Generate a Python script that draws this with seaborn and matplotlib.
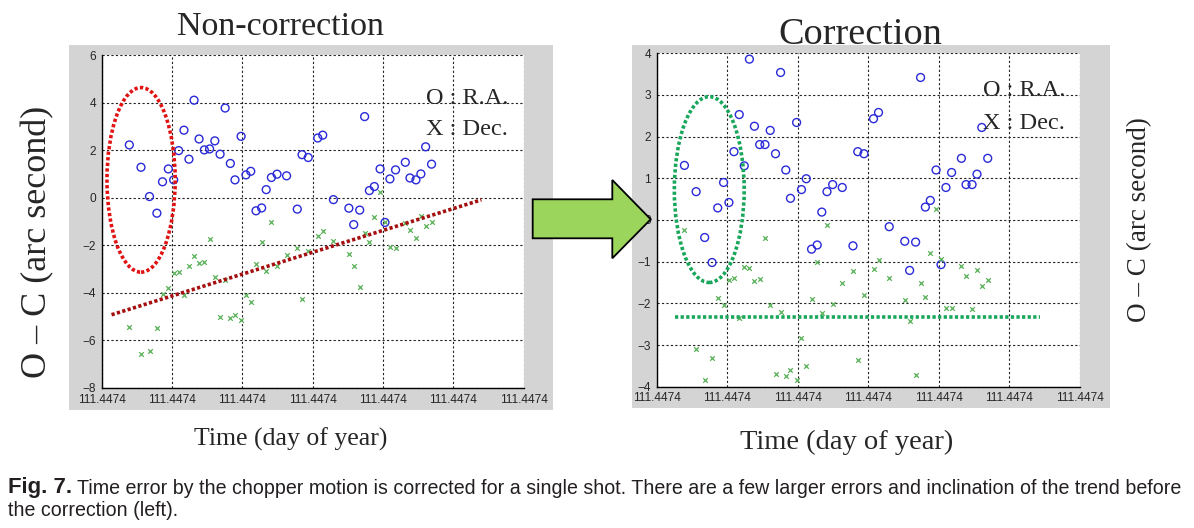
import matplotlib
matplotlib.use('Agg')
import matplotlib.pyplot as plt
from matplotlib.patches import Ellipse, Polygon, Rectangle
import seaborn as sns

# shot times in grid steps (every tick reads 111.4474)
czas = [0.393, 0.559, 0.680, 0.785, 0.865, 0.948, 1.024, 1.095, 1.170, 1.241,
        1.314, 1.385, 1.460, 1.535, 1.609, 1.684, 1.756, 1.830, 1.896, 1.983,
        2.052, 2.120, 2.195, 2.275, 2.340, 2.414, 2.494, 2.630, 2.782, 2.850,
        2.938, 3.073, 3.144, 3.296, 3.516, 3.585, 3.670, 3.740, 3.808, 3.878,
        3.960, 4.030, 4.100, 4.180, 4.319, 4.385, 4.470, 4.540, 4.608, 4.692]

# O - C before correction
ra_przed = [2.22, 1.28, 0.05, -0.65, 0.67, 1.21, 0.75, 1.98, 2.84, 1.62,
            4.10, 2.47, 2.01, 2.05, 2.39, 1.83, 3.77, 1.44, 0.75, 2.58,
            0.96, 1.11, -0.55, -0.43, 0.34, 0.85, 0.99, 0.92, -0.48, 1.81,
            1.69, 2.51, 2.63, -0.08, -0.44, -1.13, -0.52, 3.41, 0.30, 0.47,
            1.21, -1.04, 0.79, 1.17, 1.49, 0.83, 0.75, 1.00, 2.14, 1.41]
dec_przed = [-5.44, -6.56, -6.46, -5.48, -4.04, -3.80, -3.17, -3.13, -4.09, -2.86,
             -2.46, -2.76, -2.72, -1.74, -3.35, -5.02, -3.46, -5.06, -4.91, -5.13,
             -4.11, -4.37, -2.78, -1.87, -3.09, -1.01, -2.89, -2.41, -2.12, -4.25,
             -2.25, -1.62, -1.38, -1.84, -2.36, -2.86, -3.74, -1.49, -1.87, -0.80,
             0.25, -1.00, -2.09, -2.10, -1.07, -1.35, -1.70, -0.75, -1.17, -1.01]

# O - C after correction
ra_po = [1.31, 0.68, -0.42, -1.02, 0.29, 0.90, 0.42, 1.64, 2.53, 1.30,
         3.86, 2.25, 1.81, 1.81, 2.15, 1.59, 3.54, 1.20, 0.52, 2.34,
         0.73, 0.99, -0.70, -0.60, 0.19, 0.68, 0.85, 0.78, -0.62, 1.64,
         1.59, 2.43, 2.58, -0.16, -0.51, -1.21, -0.53, 3.42, 0.31, 0.47,
         1.20, -1.07, 0.78, 1.14, 1.48, 0.85, 0.85, 1.10, 2.22, 1.48]
dec_po = [-0.25, -3.10, -3.85, -3.30, -1.86, -2.05, -1.44, -1.40, -2.34, -1.12,
          -1.16, -1.46, -1.42, -0.42, -2.05, -3.70, -2.20, -3.75, -3.59, -3.85,
          -2.82, -3.50, -1.89, -1.00, -2.22, -0.13, -2.02, -1.51, -1.22, -3.36,
          -1.80, -1.18, -0.95, -1.38, -1.91, -2.42, -3.73, -1.51, -1.84, -0.78,
          0.26, -0.94, -2.11, -2.11, -1.10, -1.35, -2.14, -1.21, -1.58, -1.44]

# trend lines
trend_x = [0.14, 5.40]
trend_y = [-4.92, -0.09]
poziom_x = [0.26, 5.43]
poziom_y = [-2.32, -2.32]

x_ticks = [0, 1, 2, 3, 4, 5, 6]
x_tick_labels = ['111.4474'] * 7
y_ticks_przed = [-8, -6, -4, -2, 0, 2, 4, 6]
y_ticks_po = [-4, -3, -2, -1, 0, 1, 2, 3, 4]

W, H = 1194, 528
sns.set_style('white')
plt.rcParams['font.family'] = ['Liberation Sans', 'DejaVu Sans']
serif = ['Liberation Serif', 'DejaVu Serif']
narrow = ['Liberation Sans Narrow', 'Liberation Sans', 'DejaVu Sans']

fig = plt.figure(figsize=(W / 100, H / 100), dpi=100)
fig.patch.set_facecolor('white')


def px(x, y):
    return x / W, 1 - y / H


def panel(box, y_ticks, ra, dec):
    x0, y0, x1, y1 = box
    ax = fig.add_axes([x0 / W, 1 - y1 / H, (x1 - x0) / W, (y1 - y0) / H])
    ax.set_facecolor('white')
    sns.scatterplot(x=czas, y=ra, ax=ax, marker='o', s=32, facecolor='none',
                    edgecolor='#2a2ad8', linewidth=1.0, zorder=3)
    sns.scatterplot(x=czas, y=dec, ax=ax, marker='x', s=11, color='#58b058',
                    linewidth=0.9, zorder=3)
    ax.set_xlim(0, 6)
    ax.set_ylim(y_ticks[0], y_ticks[-1])
    ax.set_xticks(x_ticks)
    ax.set_xticklabels(x_tick_labels)
    ax.set_yticks(y_ticks)
    ax.tick_params(direction='in', length=4, width=0.8, labelsize=8.6,
                   labelcolor='#262626', pad=4)
    ax.grid(True, color='#222222', linestyle=(0, (2.0, 2.0)), linewidth=0.8)
    for s in ['top', 'right']:
        ax.spines[s].set_visible(False)
    for s in ['left', 'bottom']:
        ax.spines[s].set_color('black')
        ax.spines[s].set_linewidth(1.0)
    return ax


# grey figure backgrounds behind the two plots
fig.add_artist(Rectangle(px(69, 410), 484 / W, 365 / H, transform=fig.transFigure,
                         facecolor='#d4d4d4', edgecolor='none', zorder=-1))
fig.add_artist(Rectangle(px(632, 408), 478 / W, 363 / H, transform=fig.transFigure,
                         facecolor='#d4d4d4', edgecolor='none', zorder=-1))

ax1 = panel((101.7, 55, 523.5, 388), y_ticks_przed, ra_przed, dec_przed)
ax2 = panel((656.7, 53.3, 1080, 386.7), y_ticks_po, ra_po, dec_po)

kropki = (0, (0.9, 0.65))
ax1.plot(trend_x, trend_y, color='#a50f0f', linewidth=2.6, linestyle=kropki,
         dash_capstyle='butt', zorder=4)
ax1.add_patch(Ellipse((0.56, 0.75), 0.97, 7.76, fill=False, edgecolor='#e01212',
                      linewidth=2.6, linestyle=kropki, zorder=4))
ax2.plot(poziom_x, poziom_y, color='#17a65a', linewidth=2.6, linestyle=kropki,
         dash_capstyle='butt', zorder=4)
ax2.add_patch(Ellipse((0.745, 0.73), 0.99, 4.46, fill=False, edgecolor='#17a65a',
                      linewidth=2.6, linestyle=kropki, zorder=4))

for ax in (ax1, ax2):
    ax.text(0.77, 0.87 if ax is ax1 else 0.887, 'O : R.A.', transform=ax.transAxes,
            family=serif, fontsize=17.5, va='center', ha='left')
    ax.text(0.77, 0.775 if ax is ax1 else 0.79, 'X : Dec.', transform=ax.transAxes,
            family=serif, fontsize=17.5, va='center', ha='left')

# titles and axis labels
fig.text(*px(280, 35), 'Non-correction', family=serif, fontsize=24.5,
         ha='center', va='baseline')
fig.text(*px(860, 44), 'Correction', family=serif, fontsize=27.5,
         ha='center', va='baseline')
fig.text(*px(291, 446), 'Time (day of year)', family=serif, fontsize=18.5,
         ha='center', va='baseline')
fig.text(*px(847, 449), 'Time (day of year)', family=serif, fontsize=20.5,
         ha='center', va='baseline')
fig.text(*px(38, 242), 'O \u2013 C (arc second)', family=serif, fontsize=26,
         rotation=90, ha='center', va='center')
fig.text(*px(1140, 220), 'O \u2013 C (arc second)', family=serif, fontsize=19.5,
         rotation=90, ha='center', va='center')

# green arrow between the panels
strzalka = [(532.7, 199.3), (612.3, 199.3), (612.3, 180), (650.7, 219.3),
            (612.3, 258.3), (612.3, 238.3), (532.7, 238.3)]
fig.add_artist(Polygon([px(a, b) for a, b in strzalka], closed=True,
                       transform=fig.transFigure, facecolor='#9bd55c',
                       edgecolor='black', linewidth=1.3, zorder=5))

# caption, font sizes fitted to the measured widths
fig_lbl = fig.text(*px(8, 488), 'Fig. 7.', family=narrow, fontsize=16,
                   weight='bold', ha='left', va='center', color='#231f20')
linia1 = fig.text(*px(77, 489), 'Time error by the chopper motion is corrected for a single '
                  'shot. There are a few larger errors and inclination of the trend before',
                  family=narrow, fontsize=12, ha='left', va='center', color='#231f20')
linia2 = fig.text(*px(8, 511), 'the correction (left).', family=narrow, fontsize=12,
                  ha='left', va='center', color='#231f20')
fig.canvas.draw()
r = fig.canvas.get_renderer()
w = fig_lbl.get_window_extent(r).width
fig_lbl.set_fontsize(16 * 64 / w)
w = linia1.get_window_extent(r).width
fs = 12 * 1103 / w
linia1.set_fontsize(fs)
linia2.set_fontsize(fs)

fig.savefig('out.png', dpi=100)
